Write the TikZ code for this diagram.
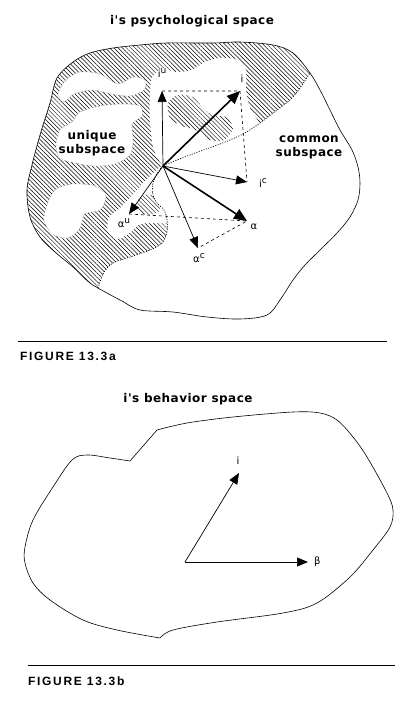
\documentclass[tikz,border=0pt]{standalone}
\usepackage{fontspec}
\usepackage{tikz}
\usetikzlibrary{arrows.meta,positioning,patterns.meta}
\newfontfamily\headfont[LetterSpace=4]{DejaVu Sans Bold}
\newfontfamily\symfont{DejaVu Sans}
\newfontfamily\figfont[LetterSpace=14]{Liberation Sans Bold}
\newcommand{\supx}[1]{\raisebox{0.8ex}{\fontsize{9}{9}\selectfont #1}}

% outline of i's psychological space
\newcommand{\psyshape}{plot[smooth cycle, tension=0.55] coordinates {(57,78) (73,62) (90,53) (113,48) (140,45) (167,43) (213,43) (240,42) (273,45) (293,53) (310,73) (320,90) (330,110) (340,130) (352,150) (358,167) (360,183) (358,200) (350,217) (337,233) (320,250) (305,265) (293,280) (280,300) (267,315) (240,319) (207,317) (173,312) (140,310) (122,301) (107,293) (90,283) (73,267) (55,252) (40,237) (30,217) (27,190) (32,165) (40,135) (50,103)}}
% border between unique and common subspace
\newcommand{\splitline}{plot[smooth, tension=0.55] coordinates {(322,55) (310,73) (300,88) (290,100) (277,110) (260,123) (243,134) (220,144) (195,153) (172,162) (163,166) (157,174) (153,183) (153,195) (157,203) (164,210) (167,220) (167,232) (162,243) (150,250) (130,257) (113,263) (104,272) (100,282) (96,295)}}

\begin{document}
\begin{tikzpicture}[x=1pt, y=-1pt,
    vec/.style={-{Triangle[length=11pt,width=9pt]}, line width=0.7pt},
    bigvec/.style={-{Triangle[length=13pt,width=11pt]}, line width=1.6pt},
    guide/.style={dashed, line width=0.6pt},
    border/.style={line width=0.6pt},
    split/.style={dash pattern=on 1pt off 1.5pt, line width=0.7pt},
    rule/.style={line width=0.8pt},
    hatch/.style={pattern={Lines[angle=-45,distance=3pt,line width=0.5pt]}},
    gap/.style={fill=white},
    stipple/.style={fill=white, draw=black!50, densely dotted, line width=0.5pt},
    heading/.style={font=\headfont\fontsize{12}{14}\selectfont, inner sep=0pt, align=center},
    vlabel/.style={font=\symfont\fontsize{10}{10}\selectfont, inner sep=0pt},
    figlabel/.style={font=\figfont\fontsize{12}{12}\selectfont, inner sep=0pt, anchor=west}
]
    \useasboundingbox (0,0) rectangle (403,702);

    % Figure 13.3a
    \node[heading] (psytitle) at (192,21) {i's psychological space};

    % hatched unique subspace
    \begin{scope}
        \clip \psyshape;
        \clip \splitline -- (0,330) -- (0,0) -- (340,0) -- cycle;
        \fill[hatch] (0,0) rectangle (403,340);
        \fill[gap] plot[smooth cycle] coordinates {(150,95) (152,78) (162,68) (175,72) (192,70) (205,62) (220,58) (238,60) (246,70) (246,90) (250,108) (258,124) (240,138) (200,155) (168,168) (154,150) (150,120)};
        \fill[gap] plot[smooth cycle] coordinates {(161,167) (146,180) (132,196) (120,208) (109,218) (108,232) (118,239) (131,232) (140,224) (155,223) (167,222) (166,208) (156,200) (152,186)};
        \filldraw[stipple] plot[smooth cycle] coordinates {(56,145) (60,130) (72,122) (80,112) (100,106) (122,104) (140,106) (142,116) (132,124) (133,140) (130,155) (115,164) (95,166) (75,163) (60,158)};
        \filldraw[stipple] plot[smooth cycle] coordinates {(58,94) (66,80) (80,72) (100,74) (118,84) (133,77) (145,80) (144,90) (130,96) (112,94) (92,90) (74,94) (64,102)};
        \filldraw[stipple] plot[smooth cycle] coordinates {(47,205) (55,190) (72,184) (95,186) (106,196) (100,210) (85,214) (80,228) (68,238) (52,234) (44,220)};
        \fill[hatch] plot[smooth cycle] coordinates {(168,103) (178,95) (193,97) (203,108) (212,115) (226,117) (233,128) (225,140) (210,140) (196,130) (182,126) (170,118)};
        \fill[hatch] plot[smooth cycle] coordinates {(138,200) (148,194) (157,200) (160,210) (150,215) (140,212)};
    \end{scope}

    % border of the two subspaces
    \begin{scope}
        \clip \psyshape;
        \draw[split] \splitline;
    \end{scope}
    \draw[border] \psyshape;

    \node[heading] (uniq) at (92,143) {unique\\subspace};
    \node[heading] (comm) at (309,147) {common\\subspace};

    % vectors
    \coordinate (O) at (163,166);
    \coordinate (iu) at (162,91);
    \coordinate (i) at (240,91);
    \coordinate (ic) at (247,182);
    \coordinate (a) at (247,221);
    \coordinate (au) at (129,214);
    \coordinate (ac) at (198,248);

    \draw[guide] (iu) -- (i) -- (ic);
    \draw[guide] (au) -- (a) -- (ac);
    \draw[vec] (O) -- (iu);
    \draw[vec] (O) -- (ic);
    \draw[vec] (O) -- (au);
    \draw[vec] (O) -- (ac);
    \draw[bigvec] (O) -- (i);
    \draw[bigvec] (O) -- (a);

    \node[vlabel] (liu) at (162,73) {i\supx{u}};
    \node[vlabel] (li) at (242,79) {i};
    \node[vlabel] (lic) at (263,183) {i\supx{c}};
    \node[vlabel] (la) at (254,227) {α};
    \node[vlabel] (lau) at (124,223) {α\supx{u}};
    \node[vlabel] (lac) at (199,258) {α\supx{c}};

    \coordinate (ruleAw) at (18,341);
    \coordinate (ruleAe) at (387,341);
    \draw[rule] (ruleAw) -- (ruleAe);
    \node[figlabel] (figA) at (20,356) {FIGURE 13.3a};

    % Figure 13.3b
    \node[heading] (behtitle) at (188,399) {i's behavior space};

    \draw[border] (157,430) -- (130,461)
        -- plot[smooth, tension=0.55] coordinates {(130,461) (110,458) (87,455) (72,460) (53,487) (33,520) (25,547) (25,563) (33,583) (50,600) (83,620) (117,630) (160,638)}
        -- plot[smooth, tension=0.55] coordinates {(160,638) (173,630) (217,622) (283,613) (317,603) (350,577) (373,550) (390,527) (393,510) (387,493) (367,457) (353,437) (337,420) (320,413) (293,412) (233,417) (187,423) (157,430)};

    \coordinate (O2) at (185,562);
    \coordinate (i2) at (239,473);
    \coordinate (b2) at (308,562);
    \draw[vec] (O2) -- (i2);
    \draw[vec] (O2) -- (b2);
    \node[vlabel] (li2) at (238,461) {i};
    \node[vlabel, right=6pt of b2] (lb2) {β};

    \coordinate (ruleBw) at (28,665);
    \coordinate (ruleBe) at (395,665);
    \draw[rule] (ruleBw) -- (ruleBe);
    \node[figlabel] (figB) at (28,681) {FIGURE 13.3b};
\end{tikzpicture}
\end{document}
